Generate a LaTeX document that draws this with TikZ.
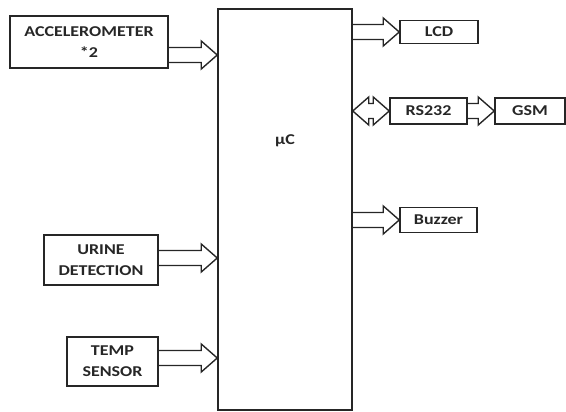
\documentclass[tikz,border=0pt]{standalone}
\usepackage{fontspec}
\newfontfamily\labfont[FakeStretch=1.2]{Carlito}
\usetikzlibrary{calc}
\begin{document}
\begin{tikzpicture}[x=1pt,y=-1pt,
  lab/.style={font=\labfont\bfseries\fontsize{15}{21}\selectfont, text=black!85, align=center},
  blk/.style={lab, draw=black!85, line width=1.5pt, inner sep=0pt},
  bus/.style={draw=black!85, line width=1.4pt, line join=miter,
    to path={let \p1=(\tikztostart), \p2=(\tikztotarget) in
      (\x1,\y1+7.5pt) -- (\x2-16pt,\y1+7.5pt) -- (\x2-16pt,\y1+14pt) -- (\x2,\y1)
      -- (\x2-16pt,\y1-14pt) -- (\x2-16pt,\y1-7.5pt) -- (\x1,\y1-7.5pt)}},
  bibus/.style={draw=black!85, line width=1.4pt, line join=miter,
    to path={let \p1=(\tikztostart), \p2=(\tikztotarget) in
      (\x1+16pt,\y1+7.5pt) -- (\x2-16pt,\y1+7.5pt) -- (\x2-16pt,\y1+14pt) -- (\x2,\y1)
      -- (\x2-16pt,\y1-14pt) -- (\x2-16pt,\y1-7.5pt) -- (\x1+16pt,\y1-7.5pt)
      -- (\x1+16pt,\y1-14pt) -- (\x1,\y1) -- (\x1+16pt,\y1+14pt) -- cycle}}]
\useasboundingbox (0,0) rectangle (566,412);
\node[blk, minimum width=134pt, minimum height=401pt] (mc) at (285,209.5) {};
\node[lab] (mclab) at (285,141) {µC};
\node[blk, minimum width=158pt, minimum height=52pt] (acc) at (89,42) {ACCELEROMETER\\*2};
\node[blk, minimum width=114pt, minimum height=50pt] (uri) at (101,260) {URINE\\DETECTION};
\node[blk, minimum width=91pt, minimum height=49pt] (tmp) at (112.5,361.5) {TEMP\\SENSOR};
\node[blk, minimum width=78pt, minimum height=23pt] (lcd) at (439,32) {LCD};
\node[blk, minimum width=77pt, minimum height=26pt] (rs) at (428.5,111) {RS232};
\node[blk, minimum width=70pt, minimum height=26pt] (gsm) at (530,111) {GSM};
\node[blk, minimum width=77pt, minimum height=25pt] (buz) at (438.5,220) {Buzzer};
\coordinate (ya) at (0,55);
\coordinate (yu) at (0,258);
\coordinate (yt) at (0,358);
\draw[bus] (acc.east |- ya) to (mc.west |- ya);
\draw[bus] (uri.east |- yu) to (mc.west |- yu);
\draw[bus] (tmp.east |- yt) to (mc.west |- yt);
\draw[bus] (mc.east |- lcd) to (lcd.west);
\draw[bibus] (mc.east |- rs) to (rs.west);
\draw[bus] (rs.east) to (gsm.west);
\draw[bus] (mc.east |- buz) to (buz.west);
\end{tikzpicture}
\end{document}
